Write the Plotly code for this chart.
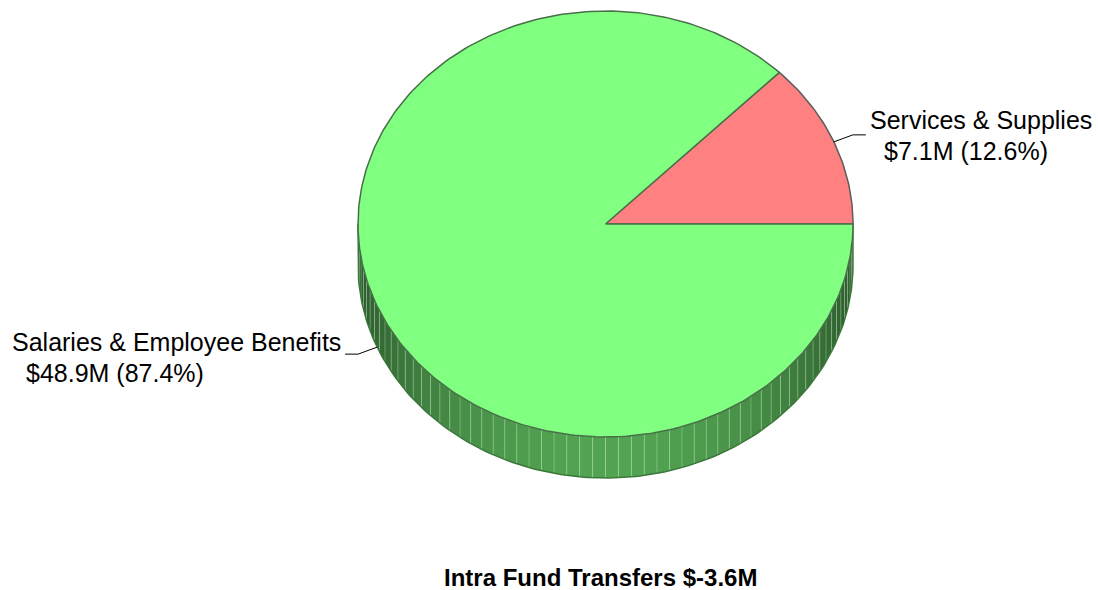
import math
import plotly.graph_objects as go

# ---- data -------------------------------------------------------------
categories = ["Services & Supplies", "Salaries & Employee Benefits"]
amounts_m = [7.1, 48.9]          # $ millions
percents = [12.6, 87.4]          # share of total, drives slice angles
total_label = "Intra Fund Transfers $-3.6M"

# ---- styling / geometry (pixels, y grows downward) ---------------------
W, H = 1098, 590
CX, CY = 605.5, 224.0            # centre of the pie top
RX, RY = 247.5, 213.0            # ellipse radii of the pie top
DEPTH = 41.0                     # thickness of the disc
START_DEG = 0.0                  # first slice starts at 3 o'clock, goes counter-clockwise
top_colors = [(255, 128, 128), (128, 255, 128)]
edge_colors = ["rgb(92,92,92)", "rgb(72,112,72)"]
FONT = "Liberation Sans, Arial, sans-serif"
LABEL_SIZE = 25
TITLE_SIZE = 24


def pt(deg, drop=0.0):
    t = math.radians(deg)
    return CX + RX * math.cos(t), CY - RY * math.sin(t) + drop


def rgb(c, k=1.0):
    return "rgb(%d,%d,%d)" % tuple(max(0, min(255, round(v * k))) for v in c)


# slice angle ranges from the percentages
bounds = []
a = START_DEG
for p in percents:
    b = a + p / 100.0 * 360.0
    bounds.append((a, b))
    a = b


def slice_at(deg):
    d = (deg - START_DEG) % 360.0 + START_DEG
    for i, (a0, a1) in enumerate(bounds):
        if a0 <= d < a1:
            return i
    return len(bounds) - 1


fig = go.Figure()

# ---- side wall of the disc (front half: 180..360 deg) ------------------
STEP = 3.0
n = int(180 / STEP)
stripe_x, stripe_y = [], []
for j in range(n):
    d0 = 180 + j * STEP
    d1 = d0 + STEP
    dm = (d0 + d1) / 2
    arc = [d0 + (d1 - d0) * q / 6 for q in range(7)]
    xs = [pt(d)[0] for d in arc] + [pt(d, DEPTH)[0] for d in reversed(arc)]
    ys = [pt(d)[1] for d in arc] + [pt(d, DEPTH)[1] for d in reversed(arc)]
    s = abs(math.sin(math.radians(dm)))
    shade = 0.34 + 0.30 * s ** 1.6
    col = top_colors[slice_at(dm)]
    fig.add_trace(go.Scatter(x=xs + [xs[0]], y=ys + [ys[0]], mode="lines",
                             fill="toself", fillcolor=rgb(col, shade),
                             line=dict(width=0), hoverinfo="skip", showlegend=False))
    if j > 0:
        x0, y0 = pt(d0)
        _, y1 = pt(d0, DEPTH)
        stripe_x += [x0, x0, None]
        stripe_y += [y0, y1, None]

fig.add_trace(go.Scatter(x=stripe_x, y=stripe_y, mode="lines",
                         line=dict(color="rgba(200,255,200,0.3)", width=1),
                         hoverinfo="skip", showlegend=False))

# outline of the side wall (bottom rim and the two end edges)
rim = [180 + q for q in range(181)]
rx_ = [pt(180)[0]] + [pt(d, DEPTH)[0] for d in rim] + [pt(360)[0]]
ry_ = [pt(180)[1]] + [pt(d, DEPTH)[1] for d in rim] + [pt(360)[1]]
fig.add_trace(go.Scatter(x=rx_, y=ry_, mode="lines",
                         line=dict(color="rgb(58,120,58)", width=1.5),
                         hoverinfo="skip", showlegend=False))

# ---- top face slices ---------------------------------------------------
for i, (a0, a1) in enumerate(bounds):
    k = max(2, int((a1 - a0) / 1.0))
    arc = [a0 + (a1 - a0) * q / k for q in range(k + 1)]
    xs = [CX] + [pt(d)[0] for d in arc] + [CX]
    ys = [CY] + [pt(d)[1] for d in arc] + [CY]
    fig.add_trace(go.Scatter(x=xs, y=ys, mode="lines", fill="toself",
                             fillcolor=rgb(top_colors[i]),
                             line=dict(color=edge_colors[i], width=1.5),
                             hoverinfo="skip", showlegend=False))

# ---- labels with leader lines -----------------------------------------
label_lines = [
    (categories[0], "$%.1fM (%.1f%%)" % (amounts_m[0], percents[0])),
    (categories[1], "$%.1fM (%.1f%%)" % (amounts_m[1], percents[1])),
]
label_font = dict(family=FONT, size=LABEL_SIZE, color="black")
for i, (a0, a1) in enumerate(bounds):
    mid = (a0 + a1) / 2
    front = math.sin(math.radians(mid)) < 0
    ax, ay = pt(mid, DEPTH if front else 0.0)
    right = math.cos(math.radians(mid)) >= 0
    sgn = 1 if right else -1
    ex, ey = ax + sgn * 19, ay - 7 if right else ay + 7
    fx = ex + sgn * 13
    fig.add_trace(go.Scatter(x=[ax, ex, fx], y=[ay, ey, ey], mode="lines",
                             line=dict(color="black", width=1),
                             hoverinfo="skip", showlegend=False))
    l1, l2 = label_lines[i]
    if right:
        tx = fx + 2
        fig.add_annotation(x=tx, y=ey - 15, text=l1, xanchor="left", yanchor="middle",
                           showarrow=False, font=label_font)
        fig.add_annotation(x=tx + 14, y=ey + 16, text=l2, xanchor="left", yanchor="middle",
                           showarrow=False, font=label_font)
    else:
        fig.add_annotation(x=10, y=ey - 12, text=l1, xanchor="left", yanchor="middle",
                           showarrow=False, font=label_font)
        fig.add_annotation(x=24, y=ey + 19, text=l2, xanchor="left", yanchor="middle",
                           showarrow=False, font=label_font)

fig.add_annotation(x=600, y=577, text="<b>%s</b>" % total_label, xanchor="center",
                   yanchor="middle", showarrow=False,
                   font=dict(family=FONT, size=TITLE_SIZE, color="black"))

fig.update_layout(
    width=W, height=H, margin=dict(l=0, r=0, t=0, b=0),
    paper_bgcolor="white", plot_bgcolor="white", showlegend=False,
    xaxis=dict(range=[0, W], visible=False, fixedrange=True),
    yaxis=dict(range=[H, 0], visible=False, fixedrange=True),
)

fig.write_html("out.html")
